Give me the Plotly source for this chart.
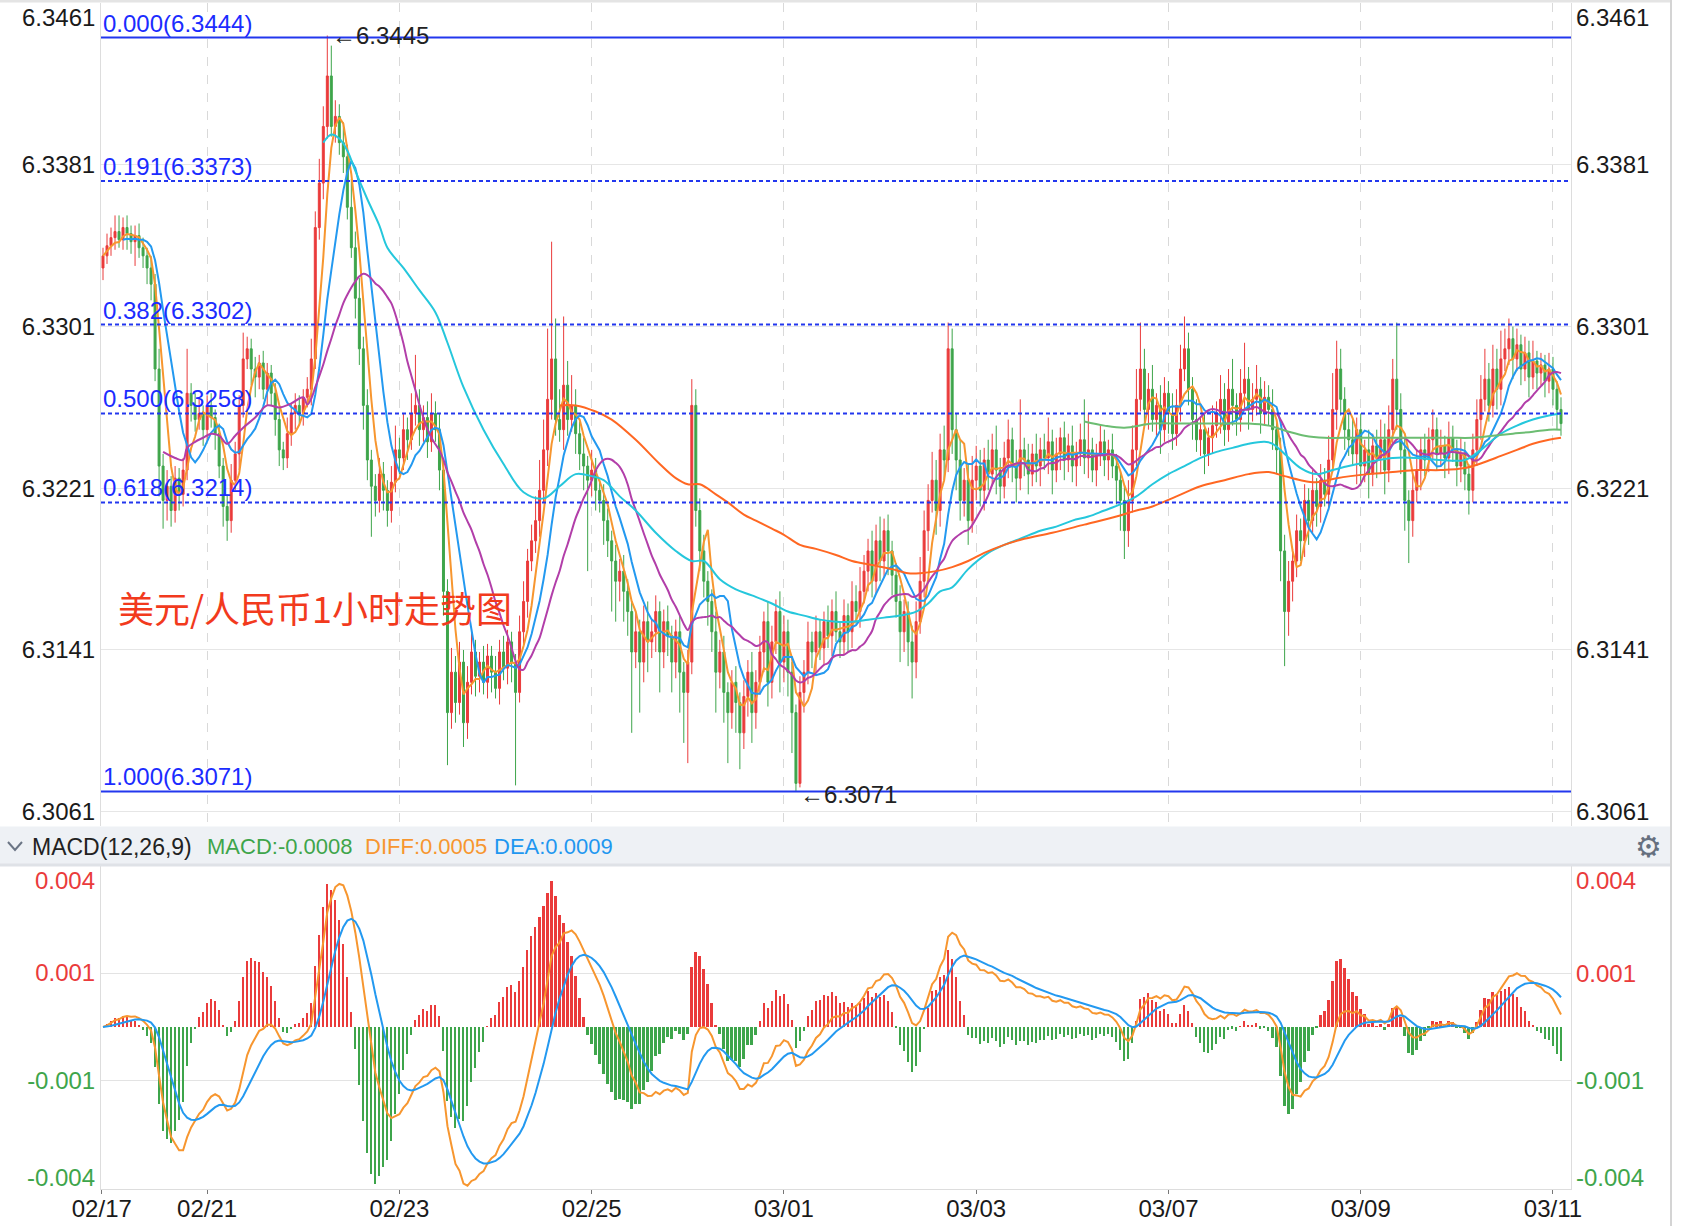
import numpy as np
import pandas as pd
import plotly.graph_objects as go

# ---------------- data (prices in pips above 6.3000) ----------------
BASE = 6.3
PIP = 0.0001
first_open = 330
closes_pips = [
    336, 341, 345, 348, 344, 350, 347, 343, 346, 340,
    336, 330, 322, 280, 232, 215, 222, 210, 226, 218,
    230, 268, 262, 255, 258, 250, 262, 256, 248, 232,
    212, 205, 225, 238, 262, 285, 290, 280, 276, 283,
    270, 278, 268, 255, 240, 236, 248, 258, 262, 258,
    266, 270, 285, 350, 372, 400, 425, 400, 405, 392,
    385, 360, 340, 315, 290, 262, 235, 222, 215, 228,
    220, 210, 224, 240, 236, 250, 245, 258, 262, 250,
    256, 244, 258, 250, 230, 170, 110, 130, 115, 135,
    105, 125, 140, 128, 135, 125, 138, 130, 122, 140,
    132, 145, 135, 120, 150, 165, 185, 195, 205, 220,
    240, 265, 285, 255, 250, 272, 255, 262, 248, 238,
    232, 225, 230, 220, 215, 205, 195, 185, 175, 180,
    170, 160, 140, 150, 135, 155, 145, 150, 160, 140,
    155, 148, 135, 150, 130, 120, 135, 262, 210, 190,
    175, 165, 150, 130, 140, 120, 110, 125, 115, 100,
    118, 130, 110, 125, 140, 155, 125, 145, 160, 135,
    150, 130, 110, 75, 120, 130, 145, 140, 150, 142,
    155, 148, 160, 150, 145, 158, 150, 165, 160, 170,
    180, 190, 175, 195, 185, 200, 190, 178, 165, 150,
    160, 145, 135, 155, 175, 200, 215, 225, 210, 240,
    235, 290, 250, 235, 215, 225, 205, 225, 232, 220,
    235, 228, 240, 230, 222, 236, 245, 232, 226, 240,
    235, 228, 238, 232, 240, 236, 244, 230, 238, 246,
    235, 242, 232, 238, 245, 236, 240, 230, 238, 244,
    235, 240, 232, 225, 215, 200, 215, 240, 265, 280,
    260, 270, 255, 262, 250, 268, 258, 248, 262, 280,
    290, 270, 255, 245, 250, 238, 246, 252, 258, 265,
    250, 270, 262, 255, 268, 275, 260, 265, 270, 258,
    266, 260, 250, 240, 190, 160, 175, 185, 200, 195,
    215, 205, 220, 212, 225, 218, 235, 260, 280, 265,
    250, 245, 238, 250, 232, 240, 228, 242, 236, 245,
    230, 250, 275, 260, 240, 215, 205, 220, 230, 240,
    235, 245, 250, 238, 242, 236, 246, 240, 232, 238,
    228, 220, 240, 255, 265, 275, 262, 280, 270, 285,
    290, 295, 285, 292, 280, 288, 276, 284, 278, 282,
    274, 280, 270, 260, 253,
]
upper_wick = [
    4, 6, 5, 8, 8, 5, 6, 4, 5, 6,
    5, 4, 6, 5, 10, 6, 8, 5, 6, 5,
    6, 22, 5, 6, 8, 4, 5, 6, 4, 5,
    4, 6, 8, 6, 5, 13, 6, 5, 6, 4,
    6, 5, 4, 5, 6, 4, 8, 5, 6, 5,
    4, 6, 10, 8, 12, 10, 20, 15, 8, 6,
    10, 6, 14, 8, 10, 6, 8, 5, 6, 8,
    6, 5, 8, 12, 6, 8, 6, 10, 25, 8,
    6, 8, 10, 6, 8, 5, 6, 12, 8, 10,
    6, 8, 10, 6, 5, 8, 6, 5, 8, 6,
    8, 6, 5, 4, 8, 10, 6, 8, 12, 15,
    15, 35, 58, 20, 15, 34, 12, 15, 8, 6,
    8, 5, 10, 6, 5, 8, 6, 5, 8, 6,
    8, 6, 5, 10, 6, 8, 10, 6, 8, 5,
    6, 8, 5, 6, 8, 5, 6, 13, 8, 6,
    8, 5, 6, 10, 6, 8, 5, 6, 8, 5,
    8, 6, 10, 6, 8, 5, 10, 8, 6, 10,
    8, 6, 5, 4, 8, 6, 10, 5, 8, 6,
    5, 8, 6, 10, 5, 8, 6, 10, 8, 12,
    8, 6, 10, 8, 12, 6, 8, 5, 6, 8,
    6, 5, 8, 10, 12, 10, 8, 14, 10, 8,
    12, 13, 10, 8, 10, 6, 8, 12, 10, 8,
    6, 10, 8, 12, 6, 8, 10, 6, 8, 25,
    6, 8, 5, 10, 6, 8, 12, 6, 8, 5,
    8, 6, 10, 6, 8, 20, 18, 6, 5, 8,
    6, 5, 8, 6, 5, 8, 10, 12, 15, 23,
    10, 8, 12, 6, 10, 8, 6, 10, 8, 12,
    16, 8, 6, 10, 6, 8, 5, 10, 6, 12,
    8, 10, 15, 6, 12, 18, 6, 8, 12, 6,
    8, 6, 10, 5, 6, 8, 10, 6, 8, 6,
    8, 6, 10, 6, 8, 6, 12, 18, 14, 10,
    6, 8, 10, 6, 8, 5, 10, 6, 8, 10,
    8, 12, 10, 28, 8, 6, 5, 8, 10, 6,
    8, 6, 10, 6, 8, 5, 8, 6, 5, 8,
    6, 5, 8, 10, 12, 15, 8, 12, 10, 14,
    10, 10, 6, 8, 5, 8, 6, 10, 5, 6,
    5, 8, 6, 4, 6,
]
lower_wick = [
    6, 4, 5, 6, 4, 5, 8, 6, 12, 5,
    6, 8, 8, 6, 15, 14, 10, 8, 6, 8,
    6, 5, 8, 6, 5, 8, 6, 5, 8, 6,
    10, 10, 6, 5, 8, 6, 5, 8, 10, 6,
    5, 8, 6, 8, 8, 6, 5, 6, 8, 5,
    6, 5, 8, 5, 6, 8, 6, 5, 8, 6,
    8, 6, 5, 10, 8, 12, 10, 25, 8, 6,
    10, 8, 6, 5, 8, 6, 10, 5, 6, 8,
    6, 8, 5, 6, 10, 12, 26, 8, 10, 6,
    12, 8, 6, 10, 8, 6, 8, 10, 5, 8,
    6, 8, 10, 46, 5, 6, 8, 5, 6, 8,
    6, 8, 10, 8, 6, 10, 8, 6, 10, 8,
    12, 45, 8, 10, 6, 12, 8, 25, 20, 10,
    15, 12, 40, 8, 25, 10, 15, 8, 10, 20,
    8, 10, 15, 8, 20, 25, 35, 6, 8, 10,
    8, 12, 10, 20, 8, 15, 25, 8, 15, 18,
    8, 10, 15, 8, 6, 10, 12, 8, 6, 15,
    10, 12, 20, 4, 2, 10, 6, 8, 10, 6,
    8, 6, 10, 5, 8, 6, 10, 8, 6, 8,
    6, 10, 8, 6, 10, 8, 12, 10, 8, 15,
    10, 12, 18, 8, 6, 8, 10, 6, 12, 8,
    10, 6, 12, 15, 10, 8, 12, 6, 10, 8,
    10, 8, 6, 12, 8, 6, 10, 8, 12, 6,
    8, 10, 6, 8, 10, 6, 8, 12, 6, 8,
    10, 6, 8, 10, 6, 8, 10, 6, 8, 6,
    8, 10, 6, 12, 15, 14, 8, 6, 8, 6,
    8, 10, 6, 8, 12, 6, 10, 8, 6, 8,
    6, 8, 10, 6, 8, 10, 6, 8, 6, 10,
    8, 6, 10, 8, 6, 8, 10, 6, 8, 10,
    6, 8, 10, 12, 15, 27, 12, 10, 8, 10,
    8, 12, 6, 10, 8, 6, 8, 6, 10, 8,
    10, 8, 6, 15, 10, 8, 12, 6, 10, 8,
    12, 6, 8, 10, 12, 15, 21, 8, 6, 10,
    8, 6, 10, 8, 6, 10, 8, 6, 10, 8,
    8, 12, 6, 8, 10, 6, 8, 6, 10, 8,
    6, 8, 10, 6, 8, 6, 10, 6, 8, 6,
    8, 6, 8, 10, 6,
]

# MA20 as drawn at the very start of the window (candle index, pips)
ma20_start_idx = [15, 18, 20, 21, 23, 25, 27, 29, 31, 33, 35, 38, 41, 44, 47, 50]
ma20_start_pips = [239, 236, 235, 241, 244, 246, 248, 247, 243, 247, 251, 256, 262, 261, 263, 266]

# long moving averages (candle index, pips)
ma60_idx = [55, 57, 59, 61, 63, 66, 69, 71, 75, 79, 83, 86, 90, 95, 100, 105, 110, 114, 118, 122,
            125, 129, 133, 138, 143, 147, 150, 154, 158, 162, 167, 171, 175, 179, 183, 187, 191, 195,
            199, 203, 206, 209, 212, 216, 221, 225, 229, 234, 238, 242, 246, 250, 254, 258, 262, 266,
            270, 274, 278, 282, 286, 290, 292, 295, 299, 303, 307, 311, 316, 322, 328, 334, 340, 344,
            349, 353, 357, 361, 364]
ma60_pips = [392, 396, 394, 388, 378, 364, 351, 340, 330, 319, 308, 293, 271, 250, 233, 219, 216, 222,
             228, 227, 225, 217, 210, 199, 190, 185, 185, 176, 171, 168, 164, 160, 158, 156, 155, 155,
             156, 157, 158, 160, 164, 170, 172, 181, 189, 193, 196, 200, 202, 205, 207, 210, 213, 217,
             223, 228, 232, 236, 239, 241, 243, 244, 243, 238, 231, 228, 230, 232, 234, 236, 236, 235,
             235, 240, 248, 252, 255, 257, 258]
ma120_idx = [114, 118, 123, 127, 133, 139, 143, 146, 149, 153, 156, 160, 163, 167, 170, 174, 178, 183,
             187, 192, 197, 201, 204, 208, 212, 216, 220, 225, 230, 237, 245, 253, 258, 262, 268, 274,
             280, 286, 291, 295, 299, 303, 308, 316, 322, 328, 334, 340, 345, 349, 353, 357, 361, 364]
ma120_pips = [262, 262, 259, 255, 245, 233, 226, 223, 223, 218, 214, 208, 205, 201, 198, 193, 191, 188,
              185, 183, 181, 179, 179, 180, 182, 185, 189, 193, 196, 199, 203, 207, 210, 212, 217, 222,
              225, 228, 229, 227, 225, 224, 226, 228, 229, 230, 230, 231, 234, 237, 240, 243, 245, 246]
ma250_idx = [245, 250, 255, 262, 270, 278, 286, 291, 296, 300, 305, 312, 320, 328, 336, 342, 347, 352,
             357, 361, 364]
ma250_pips = [254, 252, 251, 253, 253, 253, 253, 252, 249, 247, 246, 246, 246, 246, 246, 246, 247, 248,
              249, 250, 250]

date_labels = ["02/17", "02/21", "02/23", "02/25", "03/01", "03/03", "03/07", "03/09", "03/11"]
date_candle = [-0.3, 26, 74, 122, 170, 218, 266, 314, 362]

fib_ratios = ["0.000", "0.191", "0.382", "0.500", "0.618", "1.000"]
fib_prices = [6.3444, 6.3373, 6.3302, 6.3258, 6.3214, 6.3071]

price_ticks = [6.3381, 6.3301, 6.3221, 6.3141, 6.3061]
price_top_label = "6.3461"
macd_grid_ticks = [0.0014, -0.0014]
macd_grid_text = ["0.001", "-0.001"]
macd_edge_ticks = [0.0038, -0.0039]
macd_edge_text = ["0.004", "-0.004"]
macd_header = ["MACD(12,26,9)", "MACD:-0.0008", "DIFF:0.0005", "DEA:0.0009"]
title_text = "美元/人民币1小时走势图"

# ---------------- derived series ----------------
c = BASE + np.array(closes_pips) * PIP
o = np.r_[BASE + first_open * PIP, c[:-1]]
hi = np.maximum(o, c) + np.array(upper_wick) * PIP
lo = np.minimum(o, c) - np.array(lower_wick) * PIP
n = len(c)
x = np.arange(n)

s = pd.Series(c)
ma5 = s.rolling(5, min_periods=1).mean()
ma10 = s.rolling(10, min_periods=1).mean()
ma10[:5] = np.nan
ma20 = s.rolling(20, min_periods=1).mean()
ma20[:ma20_start_idx[-1] + 1] = np.nan
ma20_x = list(ma20_start_idx) + list(x[ma20_start_idx[-1] + 1:])
ma20_y = list(BASE + np.array(ma20_start_pips) * PIP) + list(ma20[ma20_start_idx[-1] + 1:])

ema12 = s.ewm(span=12, adjust=False).mean()
ema26 = s.ewm(span=26, adjust=False).mean()
diff = ema12 - ema26
dea = diff.ewm(span=9, adjust=False).mean()
hist = 2 * (diff - dea)

# ---------------- styling ----------------
W, H = 1684, 1226
L, R, T, B = 101, 113, 3, 37
PW, PH = W - L - R, H - T - B
def pxx(xf):
    return (xf - L) / PW
def pyy(yf):
    return (H - B - yf) / PH

UP, DOWN = "#ea3b3b", "#3ea54b"
FONT = "Liberation Sans, Arial, sans-serif"
FIB = "#2237ee"

price_range = [6.30539, 6.34611]
macd_range = [-0.00421, 0.00418]

fig = go.Figure()
fig.add_trace(go.Candlestick(
    x=x, open=o, high=hi, low=lo, close=c, xaxis="x", yaxis="y",
    increasing=dict(line=dict(color=UP, width=1), fillcolor=UP),
    decreasing=dict(line=dict(color=DOWN, width=1), fillcolor=DOWN),
    whiskerwidth=0, hoverinfo="skip", showlegend=False))

def add_line(xx, yy, color, width=2, yaxis="y", xaxis="x", shape="linear"):
    fig.add_trace(go.Scatter(x=xx, y=yy, mode="lines", xaxis=xaxis, yaxis=yaxis,
                             line=dict(color=color, width=width, shape=shape),
                             hoverinfo="skip", showlegend=False))

add_line(x, ma5, "#f7962f")
add_line(x, ma10, "#2399f0")
add_line(ma20_x, ma20_y, "#b23ea9", shape="spline")
add_line(ma60_idx, BASE + np.array(ma60_pips) * PIP, "#25c7dc", shape="spline")
add_line(ma120_idx, BASE + np.array(ma120_pips) * PIP, "#ff6722", shape="spline")
add_line(ma250_idx, BASE + np.array(ma250_pips) * PIP, "#6cbd72", shape="spline")

# MACD panel
fig.add_trace(go.Bar(x=x, y=hist, xaxis="x2", yaxis="y2", width=0.45,
                     marker=dict(color=[UP if v >= 0 else DOWN for v in hist], line=dict(width=0)),
                     hoverinfo="skip", showlegend=False))
add_line(x, diff, "#f7962f", width=2, yaxis="y2", xaxis="x2")
add_line(x, dea, "#2399f0", width=2, yaxis="y2", xaxis="x2")

price_dom = [pyy(826), 1]
macd_dom = [0, pyy(866)]
tickfont = dict(family=FONT, size=24, color="#1a1a1a")
xr = [-0.5, 366.5]

def col_for(v):
    return UP if v > 0 else DOWN
macd_ticktext = ['<span style="color:%s">%s</span>' % (col_for(v), t)
                 for v, t in zip(macd_grid_ticks, macd_grid_text)]
ptext = ["%.4f" % v for v in price_ticks]

fig.update_layout(
    width=W, height=H, margin=dict(l=L, r=R, t=T, b=B, autoexpand=False),
    paper_bgcolor="white", plot_bgcolor="white", showlegend=False,
    boxgap=0.3, bargap=0, hovermode=False,
    xaxis=dict(domain=[0, 1], anchor="y", range=xr, rangeslider=dict(visible=False), automargin=False,
               tickvals=date_candle, showticklabels=False, ticks="",
               showgrid=True, gridcolor="#d9d9d9", griddash="dash", gridwidth=1,
               zeroline=False, showline=False),
    xaxis2=dict(domain=[0, 1], anchor="y2", range=xr, matches="x", automargin=False,
                tickvals=date_candle, ticktext=date_labels, tickfont=tickfont,
                ticks="outside", ticklen=4, tickcolor="#777", ticklabelstandoff=-6, showgrid=False,
                zeroline=False, showline=True, linecolor="#dddddd", linewidth=1),
    yaxis=dict(domain=price_dom, anchor="x", range=price_range, tickvals=price_ticks, automargin=False,
               ticktext=ptext, tickfont=tickfont, ticks="",
               showgrid=True, gridcolor="#e6e6e6", zeroline=False,
               showline=True, linecolor="#dddddd", mirror=True),
    yaxis2=dict(domain=macd_dom, anchor="x2", range=macd_range, tickvals=macd_grid_ticks,
                automargin=False, ticktext=macd_ticktext, tickfont=tickfont, ticks="", showgrid=True,
                gridcolor="#e3e3e3", zeroline=False, showline=True, linecolor="#dddddd", mirror=True),
)

shapes = []
for r, p in zip(fib_ratios, fib_prices):
    solid = r in ("0.000", "1.000")
    shapes.append(dict(type="line", xref="paper", yref="y", x0=0, x1=1, y0=p, y1=p,
                       line=dict(color=FIB, width=2, dash="solid" if solid else "4px,3px")))
shapes.append(dict(type="rect", xref="paper", yref="paper", x0=pxx(0), x1=pxx(1670),
                   y0=pyy(866), y1=pyy(826.5), fillcolor="#eef1f5", line=dict(width=0), layer="below"))
shapes.append(dict(type="line", xref="paper", yref="paper", x0=pxx(0), x1=pxx(1670),
                   y0=pyy(865), y1=pyy(865), line=dict(color="#dfe2e7", width=3)))
shapes.append(dict(type="line", xref="paper", yref="paper", x0=pxx(1671), x1=pxx(1671),
                   y0=pyy(0), y1=pyy(H), line=dict(color="#d4d4d4", width=2)))
shapes.append(dict(type="line", xref="paper", yref="paper", x0=pxx(0), x1=pxx(1670),
                   y0=pyy(1), y1=pyy(1), line=dict(color="#e4e4e4", width=3)))
shapes.append(dict(type="path", xref="paper", yref="paper",
                   path="M %f,%f L %f,%f L %f,%f" % (pxx(8), pyy(842), pxx(15), pyy(850), pxx(22), pyy(842)),
                   line=dict(color="#6b7585", width=2)))
fig.update_layout(shapes=shapes)

ann = []
for r, p in zip(fib_ratios, fib_prices):
    ann.append(dict(xref="paper", yref="y", x=0, y=p, xanchor="left", yanchor="bottom",
                    text="%s(%.4f)" % (r, p), showarrow=False, yshift=-1,
                    font=dict(family=FONT, size=24, color="#1b2cff")))
RX = pxx(1575)
for v, t in zip(price_ticks, ptext):
    ann.append(dict(xref="paper", yref="y", x=RX, y=v, xanchor="left", yanchor="middle",
                    text=t, showarrow=False, borderpad=0, font=tickfont))
for v, t in zip(macd_grid_ticks, macd_grid_text):
    ann.append(dict(xref="paper", yref="y2", x=RX, y=v, xanchor="left", yanchor="middle",
                    text=t, showarrow=False, borderpad=0,
                    font=dict(family=FONT, size=24, color=col_for(v))))
ann.append(dict(xref="paper", yref="paper", x=pxx(96), y=pyy(3), xanchor="right", yanchor="top",
                text=price_top_label, showarrow=False, borderpad=0, font=tickfont))
ann.append(dict(xref="paper", yref="paper", x=RX, y=pyy(3), xanchor="left", yanchor="top",
                text=price_top_label, showarrow=False, borderpad=0, font=tickfont))
for t, v in zip(macd_edge_text, macd_edge_ticks):
    f = dict(family=FONT, size=24, color=col_for(v))
    ann.append(dict(xref="paper", yref="y2", x=pxx(96), y=v, xanchor="right", yanchor="middle",
                    text=t, showarrow=False, borderpad=0, font=f))
    ann.append(dict(xref="paper", yref="y2", x=RX, y=v, xanchor="left", yanchor="middle",
                    text=t, showarrow=False, borderpad=0, font=f))
imax, imin = int(np.argmax(hi)), int(np.argmin(lo))
ann.append(dict(xref="x", yref="y", x=imax + 0.6, y=hi[imax], xanchor="left", yanchor="middle",
                text="←%.4f" % hi[imax], showarrow=False, font=dict(family=FONT, size=24, color="#222")))
ann.append(dict(xref="x", yref="y", x=imin + 0.6, y=lo[imin], xanchor="left", yanchor="middle", yshift=-3,
                text="←%.4f" % lo[imin], showarrow=False, font=dict(family=FONT, size=24, color="#222")))
ann.append(dict(xref="paper", yref="paper", x=pxx(116), y=pyy(607), xanchor="left", yanchor="middle",
                text=title_text, showarrow=False,
                font=dict(family="Noto Sans CJK SC", size=36, color="#f23a1d")))
hdr_cols = ["#222222", "#3ea54b", "#f7962f", "#1f97f0"]
hdr_x = [30, 205, 363, 492]
hdr_size = [23, 22, 22, 22]
for t, col, xf, fs in zip(macd_header, hdr_cols, hdr_x, hdr_size):
    ann.append(dict(xref="paper", yref="paper", x=pxx(xf), y=pyy(847), xanchor="left", yanchor="middle",
                    text=t, showarrow=False, font=dict(family=FONT, size=fs, color=col)))
ann.append(dict(xref="paper", yref="paper", x=pxx(1648), y=pyy(846), xanchor="center", yanchor="middle",
                text="⚙", showarrow=False, font=dict(family="DejaVu Sans", size=30, color="#66707f")))
fig.update_layout(annotations=ann)

fig.write_html("out.html", config={"displayModeBar": False},
               post_script="document.body.style.margin='0';")
